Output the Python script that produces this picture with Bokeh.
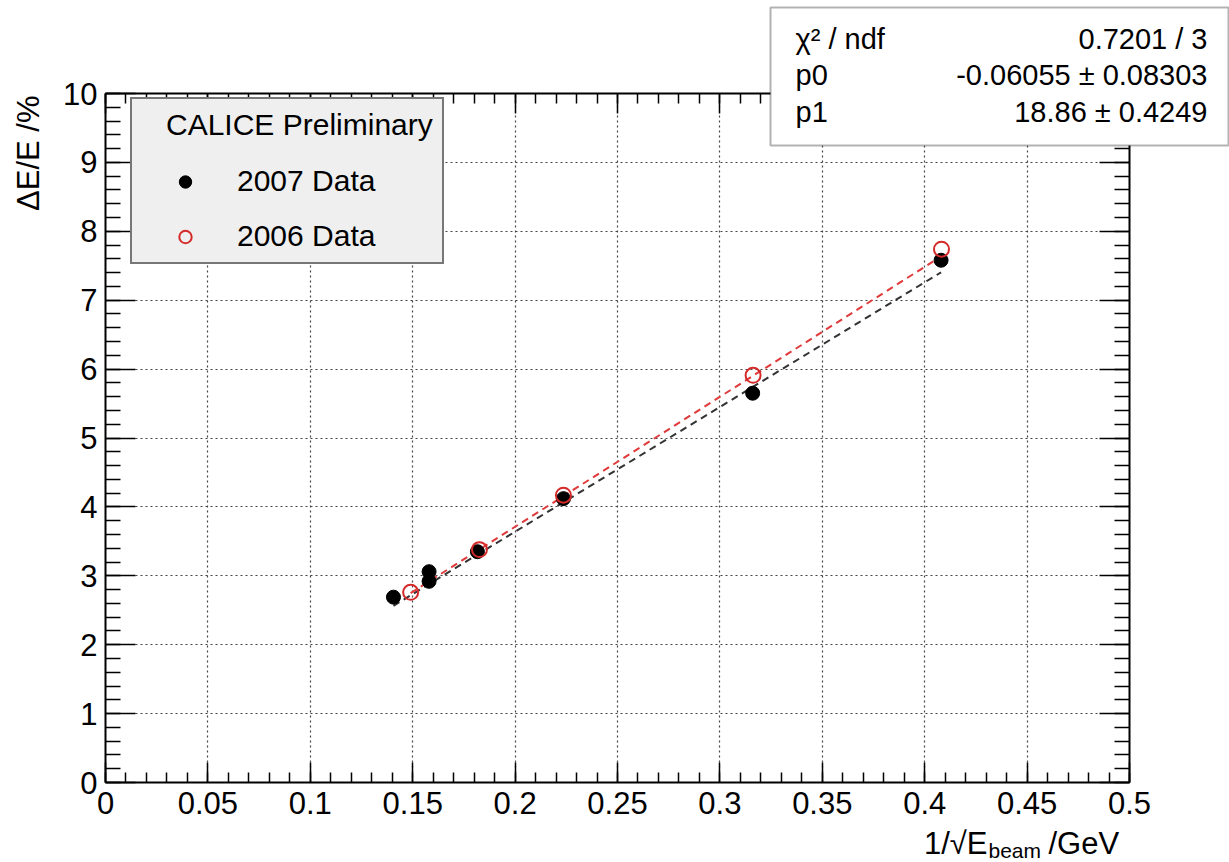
import math
from bokeh.plotting import figure
from bokeh.models import (LinearAxis, Label, BoxAnnotation, Legend, LegendItem, Grid,
                          Range1d, FixedTicker, CustomJSTickFormatter)
from bokeh.embed import file_html
from bokeh.resources import INLINE

# ---------------- data ----------------
x_2007 = [0.1406, 0.158, 0.158, 0.1816, 0.2236, 0.316, 0.408]
y_2007 = [2.69, 2.92, 3.06, 3.35, 4.12, 5.65, 7.58]
x_2006 = [0.149, 0.1826, 0.2236, 0.3162, 0.4082]
y_2006 = [2.76, 3.38, 4.17, 5.91, 7.74]
fit_2006_p0, fit_2006_p1 = -0.06055, 18.86
fit_2007_p0, fit_2007_p1 = 0.02, 18.1
stats_names = ["χ² / ndf", "p0", "p1"]
stats_values = ["0.7201 / 3", "-0.06055 ± 0.08303", "18.86 ± 0.4249"]
legend_title = "CALICE Preliminary"
legend_labels = ["2007 Data", "2006 Data"]
x_major = [0, 0.05, 0.1, 0.15, 0.2, 0.25, 0.3, 0.35, 0.4, 0.45, 0.5]
x_minor = [i / 100 for i in range(51)]
y_major = list(range(11))
y_minor = [i / 5 for i in range(51)]
x_lim = (0, 0.5)
y_lim = (0, 10)
x_title_parts = ["1/√E", "beam", "/GeV"]
y_title = "ΔE/E /%"

FONT = "Liberation Sans"
W, H = 1229, 862
# frame placement of the ROOT pad (pixels)
PX0, PX_PER = 105, 2048.0
PY0, PY_PER = 782, 68.9


def dx(px):
    return x_lim[0] + (px - PX0) / PX_PER


def dy(py):
    return y_lim[0] + (PY0 - py) / PY_PER


p = figure(width=W, height=H, x_range=Range1d(dx(0), dx(W)), y_range=Range1d(dy(H), dy(0)),
           output_backend="svg", toolbar_location=None,
           x_axis_location=None, y_axis_location=None,
           min_border=0, min_border_left=0, min_border_right=0,
           min_border_top=0, min_border_bottom=0)
p.background_fill_color = "white"
p.border_fill_color = "white"
p.outline_line_color = None
for g in list(p.grid):
    g.visible = False

fmt_x = CustomJSTickFormatter(code="return tick.toFixed(2).replace(/0+$/,'').replace(/\\.$/,'');")
blank = CustomJSTickFormatter(code="return '';")

bottom = LinearAxis(ticker=FixedTicker(ticks=x_major, minor_ticks=x_minor), formatter=fmt_x,
                    fixed_location=y_lim[0], bounds=x_lim)
top = LinearAxis(ticker=FixedTicker(ticks=x_major, minor_ticks=x_minor), formatter=blank,
                 fixed_location=y_lim[1], bounds=x_lim)
left = LinearAxis(ticker=FixedTicker(ticks=y_major, minor_ticks=y_minor),
                  fixed_location=x_lim[0], bounds=y_lim)
right = LinearAxis(ticker=FixedTicker(ticks=y_major, minor_ticks=y_minor), formatter=blank,
                   fixed_location=x_lim[1], bounds=y_lim)

# grid (drawn first so it lies beneath)
xg = Grid(dimension=0, ticker=FixedTicker(ticks=x_major[1:-1]))
yg = Grid(dimension=1, ticker=FixedTicker(ticks=y_major[1:-1]))
use_grid = True
try:
    xg.cross_bounds = y_lim
    yg.cross_bounds = x_lim
except Exception:
    use_grid = False
if use_grid:
    for g in (xg, yg):
        g.grid_line_color = "#444444"
        g.grid_line_width = 1.2
        g.grid_line_dash = "2 3"
        p.add_layout(g)
else:
    gx = x_major[1:-1]
    gy = y_major[1:-1]
    p.segment(x0=gx, x1=gx, y0=[y_lim[0]] * len(gx), y1=[y_lim[1]] * len(gx),
              line_color="#444444", line_width=1.2, line_dash="2 3")
    p.segment(x0=[x_lim[0]] * len(gy), x1=[x_lim[1]] * len(gy), y0=gy, y1=gy,
              line_color="#444444", line_width=1.2, line_dash="2 3")

p.add_layout(bottom, "below")
p.add_layout(top, "above")
p.add_layout(left, "left")
p.add_layout(right, "right")

for ax in (bottom, top):
    ax.major_tick_in = 20
    ax.minor_tick_in = 10
for ax in (left, right):
    ax.major_tick_in = 30
    ax.minor_tick_in = 15
for ax in (bottom, top, left, right):
    ax.major_tick_out = 0
    ax.minor_tick_out = 0
    ax.axis_line_color = "black"
    ax.axis_line_width = 2
    ax.major_tick_line_color = "black"
    ax.minor_tick_line_color = "black"
    ax.major_tick_line_width = 1.5
    ax.minor_tick_line_width = 1.5
    ax.major_label_text_font = FONT
    ax.major_label_text_font_size = "31px"
    ax.major_label_text_color = "black"
bottom.major_label_standoff = 9
left.major_label_standoff = 8

# fit lines
fx7 = [min(x_2007), max(x_2007)]
fy7 = [fit_2007_p0 + fit_2007_p1 * v for v in fx7]
fx6 = [min(x_2006), max(x_2006)]
fy6 = [fit_2006_p0 + fit_2006_p1 * v for v in fx6]
p.line(fx7, fy7, line_color="#333333", line_width=2, line_dash="7 5")
p.line(fx6, fy6, line_color="#e03a3a", line_width=2, line_dash="7 5")

r07 = p.scatter(x_2007, y_2007, marker="circle", size=14, fill_color="black", line_color="black")
r06 = p.scatter(x_2006, y_2006, marker="circle", size=15, fill_color=None,
                line_color="#d42a2a", line_width=2)

legend = Legend(items=[LegendItem(label=legend_labels[0], renderers=[r07]),
                       LegendItem(label=legend_labels[1], renderers=[r06])],
                location=(130, H - 264))
legend.title = "\u00a0\u00a0\u00a0" + legend_title
legend.title_text_font = FONT
legend.title_text_font_size = "30px"
legend.title_text_font_style = "normal"
legend.title_text_color = "black"
legend.title_standoff = 22
legend.label_text_font = FONT
legend.label_text_font_size = "30px"
legend.label_text_color = "black"
legend.background_fill_color = "#efefef"
legend.background_fill_alpha = 1
legend.border_line_color = "black"
legend.border_line_width = 2
legend.padding = 9
legend.margin = 0
legend.glyph_width = 88
legend.glyph_height = 31
legend.label_height = 31
legend.label_standoff = 8
legend.spacing = 21
p.add_layout(legend, "center")

# stats box
p.add_layout(BoxAnnotation(left=dx(770), right=dx(1228), top=dy(7), bottom=dy(145),
                           fill_color="white", fill_alpha=1, line_color="black", line_width=2))
row_y = [38, 74, 111]
for name, val, ry in zip(stats_names, stats_values, row_y):
    p.add_layout(Label(x=dx(795), y=dy(ry), text=name, text_align="left", text_baseline="middle",
                       text_font=FONT, text_font_size="29px", text_color="black"))
    p.add_layout(Label(x=dx(1207), y=dy(ry), text=val, text_align="right", text_baseline="middle",
                       text_font=FONT, text_font_size="29px", text_color="black"))

# axis titles
p.add_layout(Label(x=dx(28), y=dy(95), text=y_title, angle=math.pi / 2, text_align="right",
                   text_baseline="middle", text_font=FONT, text_font_size="31px", text_color="black"))
p.add_layout(Label(x=dx(987), y=dy(843), text=x_title_parts[0], text_align="right",
                   text_baseline="alphabetic", text_font=FONT, text_font_size="31px", text_color="black"))
p.add_layout(Label(x=dx(988), y=dy(850), text=x_title_parts[1], text_align="left",
                   text_baseline="alphabetic", text_font=FONT, text_font_size="21px", text_color="black"))
p.add_layout(Label(x=dx(1048), y=dy(843), text=x_title_parts[2], text_align="left",
                   text_baseline="alphabetic", text_font=FONT, text_font_size="31px", text_color="black"))

open("out.html", "w").write(file_html(p, INLINE))
